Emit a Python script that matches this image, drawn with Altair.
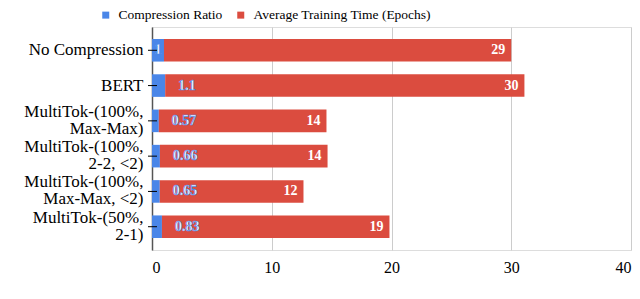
import altair as alt
import pandas as pd

categories = ["No Compression", "BERT", "MultiTok-(100%,|Max-Max)",
              "MultiTok-(100%,|2-2, <2)", "MultiTok-(100%,|Max-Max, <2)",
              "MultiTok-(50%,|2-1)"]
ratio = [1, 1.1, 0.57, 0.66, 0.65, 0.83]
ratio_labels = ["1", "1.1", "0.57", "0.66", "0.65", "0.83"]
epochs = [29, 30, 14, 14, 12, 19]
series = ["Compression Ratio", "Average Training Time (Epochs)"]
colors = ["#4a86e8", "#db4c3f"]

rows = []
for c, r, e in zip(categories, ratio, epochs):
    rows.append({"category": c, "series": series[0], "value": r, "order": 0})
    rows.append({"category": c, "series": series[1], "value": e, "order": 1})
long_df = pd.DataFrame(rows)

wide_df = pd.DataFrame({"category": categories, "ratio": ratio,
                        "rlabel": ratio_labels, "epochs": epochs})

FONT = "Liberation Serif"

y_enc = alt.Y("category:N", sort=categories,
              scale=alt.Scale(paddingInner=0.36, paddingOuter=0.34),
              axis=alt.Axis(title=None, labelExpr="split(datum.label, '|')",
                            labelFontSize=17, labelLineHeight=17, labelColor="black",
                            labelPadding=9, ticks=False, domainColor="#555",
                            domainWidth=1.5, labelFont=FONT, labelLimit=0,
                            labelOffset={"condition": {"test": "indexof(datum.label, '|') >= 0",
                                                       "value": -9},
                                         "value": 0}))

x_scale = alt.Scale(domain=[0, 40])

bars = alt.Chart(long_df).mark_bar().encode(
    y=y_enc,
    x=alt.X("sum(value):Q", stack="zero", scale=x_scale,
            axis=alt.Axis(title=None, values=[0, 10, 20, 30, 40], domain=False, ticks=False,
                          gridColor="#cccccc", labelFontSize=16, labelColor="black",
                          labelPadding=9, labelFont=FONT)),
    color=alt.Color("series:N", scale=alt.Scale(domain=series, range=colors),
                    legend=alt.Legend(title=None, orient="none", legendX=-53, legendY=-19,
                                      direction="horizontal", symbolType="square",
                                      symbolSize=49, symbolStrokeWidth=0, labelLimit=0,
                                      labelFontSize=13.5, labelFont=FONT, labelColor="black",
                                      labelOffset=6, columnPadding=11, padding=0)),
    order=alt.Order("order:Q"),
)

base = alt.Chart(wide_df).transform_calculate(total="datum.ratio + datum.epochs",
                                                half="datum.ratio / 2")

red_text = base.mark_text(align="right", baseline="middle", dx=-6, font=FONT,
                          fontWeight="bold", fontSize=14, color="white").encode(
    y=alt.Y("category:N", sort=categories),
    x=alt.X("total:Q", scale=x_scale),
    text="epochs:N",
)

blue_text = base.transform_filter("datum.ratio != 1").mark_text(
    align="left", baseline="middle", dx=13, font=FONT, fontWeight="bold", fontSize=14,
    fill="white", stroke="#4a86e8", strokeWidth=0.6).encode(
    y=alt.Y("category:N", sort=categories),
    x=alt.X("ratio:Q", scale=x_scale),
    text="rlabel:N",
)

blue_text1 = base.transform_filter("datum.ratio == 1").mark_text(
    align="center", baseline="middle", font=FONT, fontWeight="bold", fontSize=14,
    fill="white", stroke="#4a86e8", strokeWidth=0.6).encode(
    y=alt.Y("category:N", sort=categories),
    x=alt.X("half:Q", scale=x_scale),
    text="rlabel:N",
)

tick_rules = alt.Chart(wide_df).mark_rule(color="black", strokeWidth=1).encode(
    y=alt.Y("category:N", sort=categories),
    x=alt.value(-4), x2=alt.value(5),
)

chart = alt.layer(bars, red_text, blue_text, blue_text1, tick_rules).properties(
    width=479, height=223,
    autosize=alt.AutoSizeParams(type="none"),
    padding={"left": 144, "top": 19, "right": 1, "bottom": 41},
).configure_view(stroke=None).configure(font=FONT)

chart.save("out.html", embed_options={"renderer": "svg", "actions": False})
